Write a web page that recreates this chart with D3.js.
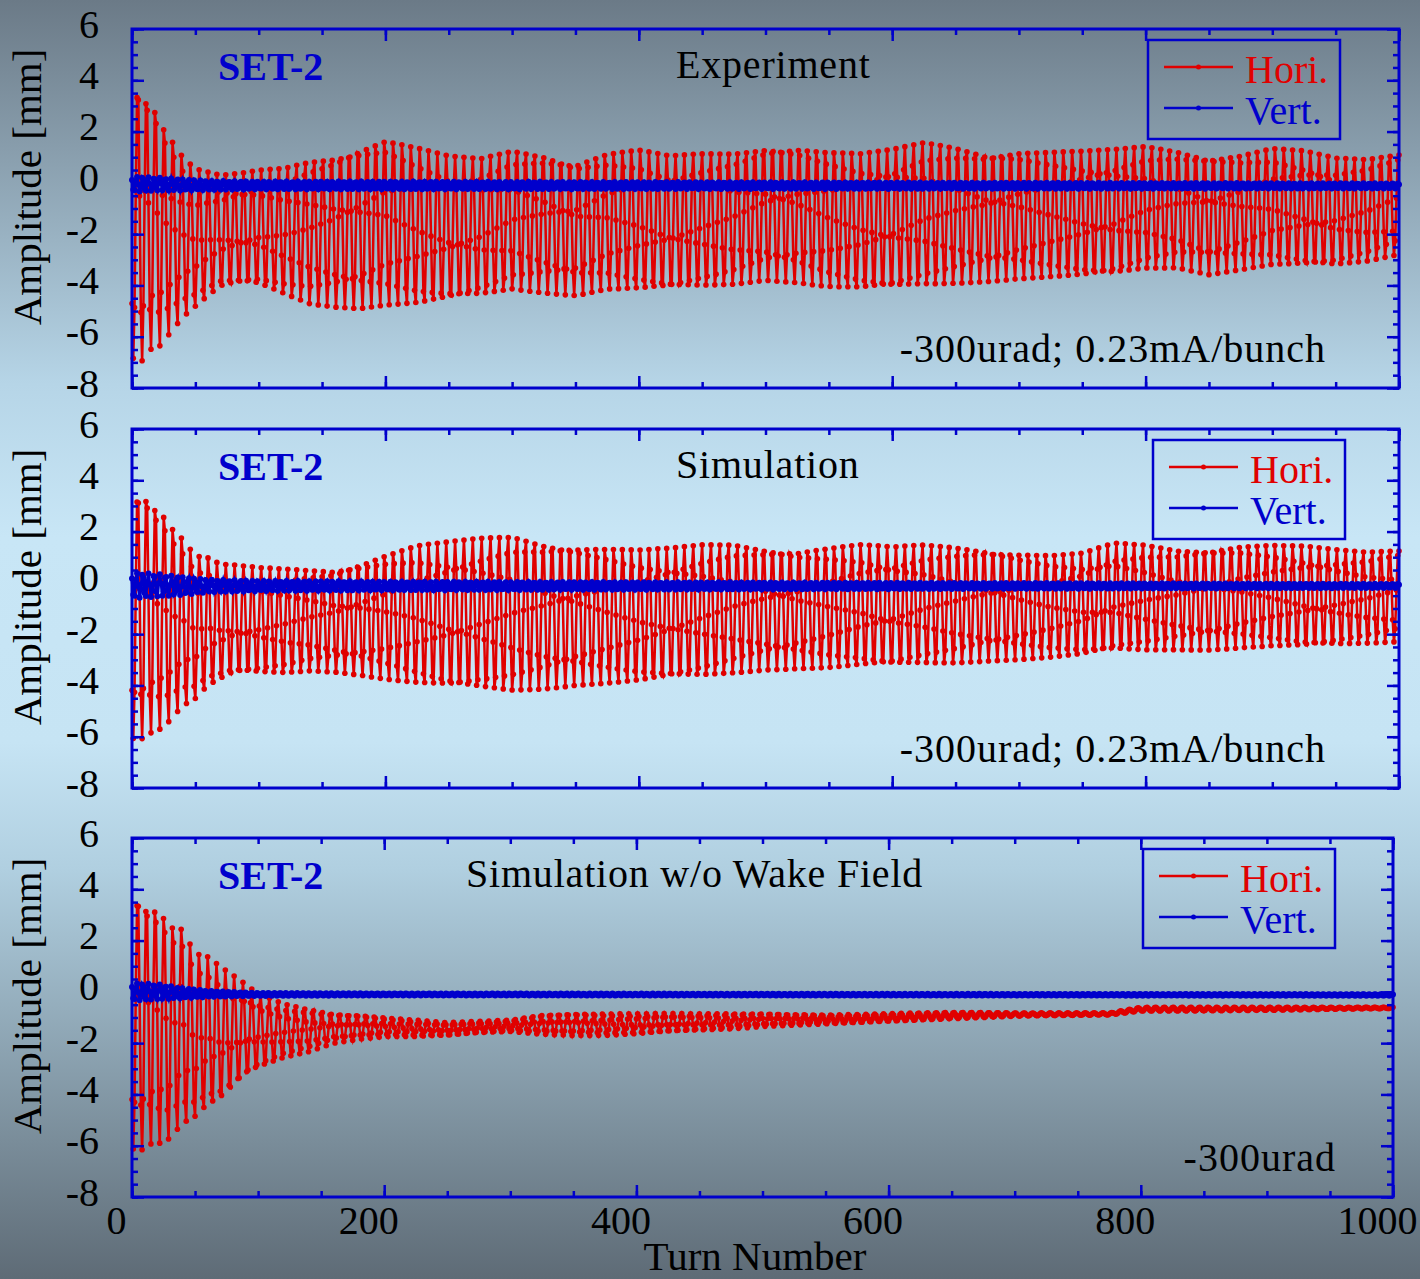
<!DOCTYPE html>
<html>
<head>
<meta charset="utf-8">
<script src="https://cdnjs.cloudflare.com/ajax/libs/d3/7.8.5/d3.min.js"></script>
<style>
    body { margin: 0; }
    svg { display: block; font-family: "Liberation Serif", "Times New Roman", serif; }
</style>
</head>
<body>
<div id="chart"></div>
<script>
var envTurns = [0, 5, 10, 15, 20, 25, 30, 40, 50, 60, 70, 80, 90, 100, 120, 140, 160, 180, 200,
    225, 250, 275, 300, 325, 350, 375, 400, 425, 450, 475, 500, 525, 550, 575, 600, 625, 650, 675,
    700, 725, 750, 775, 800, 825, 850, 875, 900, 925, 950, 975, 1000];

// Experiment, Hori. : upper / lower turning points [mm]
var expHoriTop = [4.0, 3.8, 3.55, 3.3, 2.9, 2.3, 1.9, 1.1, 0.6, 0.45, 0.3, 0.35, 0.4, 0.5, 0.6, 0.9, 1.1, 1.45, 1.75,
    1.4, 1.05, 0.95, 1.3, 1.15, 0.85, 1.2, 1.3, 1.05, 1.15, 1.2, 1.45, 1.45, 1.25, 1.15, 1.3, 1.6, 1.45, 1.2,
    1.28, 1.24, 1.24, 1.3, 1.45, 1.3, 1.07, 1.15, 1.37, 1.25, 0.97, 0.95, 1.2];
var expHoriBot = [-6.8, -7.0, -6.9, -6.5, -6.5, -6.2, -5.9, -5.3, -4.9, -4.5, -4.15, -4.05, -4.02, -4.05, -4.4, -4.75, -4.85, -4.9, -4.8,
    -4.78, -4.65, -4.47, -4.2, -4.3, -4.4, -4.18, -4.22, -4.22, -4.12, -4.0, -3.8, -3.9, -4.1, -4.2, -4.2, -4.05, -3.95, -3.85,
    -3.75, -3.72, -3.72, -3.65, -3.4, -3.33, -3.58, -3.4, -3.25, -3.3, -3.3, -3.1, -2.8];

// Simulation, Hori.
var simHoriTop = [3.6, 3.62, 3.62, 3.3, 3.0, 2.78, 2.35, 1.8, 1.1, 1.0, 0.73, 0.7, 0.65, 0.6, 0.57, 0.55, 0.55, 0.83, 1.15,
    1.48, 1.6, 1.75, 1.85, 1.6, 1.5, 1.4, 1.3, 1.35, 1.5, 1.55, 1.4, 1.3, 1.4, 1.5, 1.4, 1.5, 1.45, 1.35,
    1.2, 1.1, 1.16, 1.55, 1.5, 1.33, 1.36, 1.49, 1.49, 1.43, 1.3, 1.23, 1.35];
var simHoriBot = [-6.06, -6.1, -6.06, -5.86, -5.78, -5.65, -5.4, -4.85, -4.6, -4.1, -3.85, -3.63, -3.6, -3.6, -3.57, -3.46, -3.48, -3.6, -3.78,
    -3.98, -4.15, -4.2, -4.25, -4.15, -4.0, -3.95, -3.9, -3.8, -3.7, -3.55, -3.4, -3.35, -3.35, -3.3, -3.3, -3.2, -3.15, -3.05,
    -3.0, -2.95, -2.88, -2.7, -2.68, -2.62, -2.62, -2.55, -2.52, -2.55, -2.49, -2.4, -2.3];

// Simulation w/o wake field, Hori.
var nowakeHoriTop = [3.7, 3.87, 3.5, 3.6, 3.3, 3.1, 2.7, 2.55, 1.55, 1.4, 1.0, 0.65, 0.3, -0.07, -0.45, -0.67, -0.85, -0.9, -1.0,
    -1.1, -1.2, -1.15, -1.1, -0.9, -0.85, -0.85, -0.85, -0.85, -0.85, -0.85, -0.85, -0.88, -0.9, -0.88, -0.85, -0.82, -0.8, -0.8,
    -0.82, -0.82, -0.82, -0.82, -0.6, -0.6, -0.6, -0.6, -0.6, -0.6, -0.6, -0.6, -0.6];
var nowakeHoriBot = [-6.1, -6.25, -6.1, -5.94, -5.94, -5.9, -5.75, -5.2, -4.95, -4.5, -4.25, -3.8, -3.3, -3.0, -2.6, -2.35, -2.0, -1.85, -1.75,
    -1.75, -1.7, -1.6, -1.55, -1.65, -1.7, -1.7, -1.65, -1.55, -1.5, -1.45, -1.35, -1.3, -1.25, -1.2, -1.15, -1.1, -1.05, -1.0,
    -0.95, -0.93, -0.92, -0.9, -0.75, -0.75, -0.74, -0.73, -0.72, -0.7, -0.68, -0.66, -0.65];

// Vert. : centre and half-spread of the blue band
var vertTurns = [0, 20, 40, 60, 100, 200, 1000];
var expVertMid = [-0.05, -0.05, -0.08, -0.1, -0.1, -0.1, -0.12];
var expVertAmp = [0.3, 0.26, 0.22, 0.18, 0.15, 0.15, 0.1];
var simVertMid = [-0.1, -0.1, -0.12, -0.12, -0.12, -0.12, -0.12];
var simVertAmp = [0.5, 0.45, 0.35, 0.25, 0.2, 0.17, 0.08];
var nowakeVertMid = [0.0, 0.0, -0.05, -0.08, -0.1, -0.1, -0.12];
var nowakeVertAmp = [0.35, 0.3, 0.2, 0.12, 0.06, 0.04, 0.03];

// fractional tunes, counted from the spikes (just under 7 turns per period)
var tuneH = 0.1437,
    tuneV = 0.22;

var panelTitles = ["Experiment", "Simulation", "Simulation w/o Wake Field"];
var panelNotes = ["-300urad; 0.23mA/bunch", "-300urad; 0.23mA/bunch", "-300urad"];
var legendNames = ["Hori.", "Vert."];
var xTicks = [0, 200, 400, 600, 800, 1000];
var yTicks = [-8, -6, -4, -2, 0, 2, 4, 6];

var red = "#e00000",
    blue = "#0000cc";

var width = 1420,
    height = 1279,
    plotH = 359;

var svg = d3.select("#chart")
    .append("svg")
    .attr("width", width)
    .attr("height", height);

// background gradient
var grad = svg.append("defs")
    .append("linearGradient")
    .attr("id", "bg")
    .attr("x1", 0).attr("y1", 0)
    .attr("x2", 0).attr("y2", 1);
[[0, "#6b7a87"], [0.3, "#b6d5e7"], [0.42, "#c8e6f6"], [0.58, "#c6e4f4"], [0.68, "#b0cfe0"], [1, "#5e6b76"]]
    .forEach(function (s) {
        grad.append("stop").attr("offset", s[0]).attr("stop-color", s[1]);
    });
svg.append("rect")
    .attr("width", width)
    .attr("height", height)
    .attr("fill", "url(#bg)");

var turns = d3.range(0, 1001);

function buildHori(top, bot) {
    var topS = d3.scaleLinear().domain(envTurns).range(top);
    var botS = d3.scaleLinear().domain(envTurns).range(bot);
    return turns.map(function (n) {
        var mid = (topS(n) + botS(n)) / 2,
            half = (topS(n) - botS(n)) / 2;
        return { turn: n, value: mid + half * Math.cos(2 * Math.PI * tuneH * n + 2.23) };
    });
}

function buildVert(mid, amp) {
    var midS = d3.scaleLinear().domain(vertTurns).range(mid);
    var ampS = d3.scaleLinear().domain(vertTurns).range(amp);
    return turns.map(function (n) {
        return { turn: n, value: midS(n) + ampS(n) * Math.cos(2 * Math.PI * tuneV * n + 1) };
    });
}

var panels = [
    { top: 29, right: 1399, legendX: 1148, titleX: 676, noteX: 1326,
      hori: buildHori(expHoriTop, expHoriBot), vert: buildVert(expVertMid, expVertAmp) },
    { top: 429, right: 1399, legendX: 1153, titleX: 676, noteX: 1326,
      hori: buildHori(simHoriTop, simHoriBot), vert: buildVert(simVertMid, simVertAmp) },
    { top: 838, right: 1393, legendX: 1143, titleX: 466, noteX: 1336,
      hori: buildHori(nowakeHoriTop, nowakeHoriBot), vert: buildVert(nowakeVertMid, nowakeVertAmp) }
];

function styleAxis(sel) {
    sel.attr("font-size", null).attr("font-family", null).attr("color", blue);
    sel.select(".domain").remove();
    sel.selectAll(".tick line").attr("stroke-width", 2.5);
}

panels.forEach(function (p, i) {
    var g = svg.append("g").attr("transform", "translate(0," + p.top + ")");

    var x = d3.scaleLinear().domain([0, 1000]).range([132, p.right]);
    var y = d3.scaleLinear().domain([-8, 6]).range([plotH, 0]);

    var line = d3.line()
        .x(function (d) { return x(d.turn); })
        .y(function (d) { return y(d.value); });

    // Hori. trace
    g.append("path")
        .datum(p.hori)
        .attr("fill", "none")
        .attr("stroke", red)
        .attr("stroke-width", 2.5)
        .attr("d", line);
    g.append("g")
        .selectAll("circle")
        .data(p.hori)
        .enter()
        .append("circle")
        .attr("cx", function (d) { return x(d.turn); })
        .attr("cy", function (d) { return y(d.value); })
        .attr("r", 2.8)
        .attr("fill", red);

    // Vert. trace on top
    g.append("path")
        .datum(p.vert)
        .attr("fill", "none")
        .attr("stroke", blue)
        .attr("stroke-width", 3)
        .attr("d", line);
    g.append("g")
        .selectAll("circle")
        .data(p.vert)
        .enter()
        .append("circle")
        .attr("cx", function (d) { return x(d.turn); })
        .attr("cy", function (d) { return y(d.value); })
        .attr("r", 3)
        .attr("fill", blue);

    // inward ticks on all four sides
    var minorX = d3.range(0, 1001, 50),
        minorY = d3.range(-8, 6.01, 0.5);

    g.append("g").attr("transform", "translate(0," + plotH + ")")
        .call(d3.axisBottom(x).tickValues(minorX).tickSize(-6).tickFormat(""))
        .call(styleAxis);
    var xb = g.append("g").attr("transform", "translate(0," + plotH + ")")
        .call(d3.axisBottom(x).tickValues(xTicks).tickSize(-12)
            .tickFormat(function (d) { return i == 2 ? String(d) : ""; }))
        .call(styleAxis);
    xb.selectAll("text")
        .attr("y", 37)
        .attr("dy", null)
        .attr("dx", -16)
        .attr("fill", "#000")
        .style("font-size", "40px");

    g.append("g")
        .call(d3.axisTop(x).tickValues(minorX).tickSize(-6).tickFormat(""))
        .call(styleAxis);
    g.append("g")
        .call(d3.axisTop(x).tickValues(xTicks).tickSize(-12).tickFormat(""))
        .call(styleAxis);

    g.append("g").attr("transform", "translate(132,0)")
        .call(d3.axisLeft(y).tickValues(minorY).tickSize(-6).tickFormat(""))
        .call(styleAxis);
    var yl = g.append("g").attr("transform", "translate(132,0)")
        .call(d3.axisLeft(y).tickValues(yTicks).tickSize(-12)
            .tickFormat(function (d) { return String(d); }))
        .call(styleAxis);
    yl.selectAll("text")
        .attr("x", -33)
        .attr("dy", "0.2em")
        .attr("fill", "#000")
        .style("font-size", "40px");

    g.append("g").attr("transform", "translate(" + p.right + ",0)")
        .call(d3.axisRight(y).tickValues(minorY).tickSize(-6).tickFormat(""))
        .call(styleAxis);
    g.append("g").attr("transform", "translate(" + p.right + ",0)")
        .call(d3.axisRight(y).tickValues(yTicks).tickSize(-12).tickFormat(""))
        .call(styleAxis);

    // frame
    g.append("rect")
        .attr("x", 132)
        .attr("y", 0)
        .attr("width", p.right - 132)
        .attr("height", plotH)
        .attr("fill", "none")
        .attr("stroke", blue)
        .attr("stroke-width", 3);

    // texts inside the panel
    g.append("text")
        .attr("x", 218)
        .attr("y", 51)
        .attr("fill", blue)
        .style("font-weight", "bold")
        .style("font-size", "40px")
        .text("SET-2");
    g.append("text")
        .attr("x", p.titleX)
        .attr("y", 49)
        .attr("fill", "#000")
        .style("font-size", "40px")
        .style("letter-spacing", "0.8px")
        .text(panelTitles[i]);
    g.append("text")
        .attr("x", p.noteX)
        .attr("y", 333)
        .attr("text-anchor", "end")
        .attr("fill", "#000")
        .style("font-size", "40px")
        .style("letter-spacing", "1px")
        .text(panelNotes[i]);

    // y axis title
    g.append("text")
        .attr("transform", "translate(41,158) rotate(-90)")
        .attr("text-anchor", "middle")
        .attr("fill", "#000")
        .style("font-size", "41px")
        .text("Amplitude [mm]");

    // legend
    var lg = g.append("g").attr("transform", "translate(" + p.legendX + ",0)");
    lg.append("rect")
        .attr("x", 0)
        .attr("y", 11)
        .attr("width", 192)
        .attr("height", 99)
        .attr("fill", "none")
        .attr("stroke", blue)
        .attr("stroke-width", 2.5);
    [red, blue].forEach(function (c, k) {
        var ly = 38 + k * 41;
        lg.append("line")
            .attr("x1", 16).attr("x2", 85)
            .attr("y1", ly).attr("y2", ly)
            .attr("stroke", c)
            .attr("stroke-width", 2.5);
        lg.append("circle")
            .attr("cx", 50.5).attr("cy", ly)
            .attr("r", 2.5)
            .attr("fill", c);
        lg.append("text")
            .attr("x", 97)
            .attr("y", ly + 16)
            .attr("fill", c)
            .style("font-size", "40px")
            .text(legendNames[k]);
    });
});

// x axis title
svg.append("text")
    .attr("x", 755)
    .attr("y", 1270)
    .attr("text-anchor", "middle")
    .attr("fill", "#000")
    .style("font-size", "41px")
    .text("Turn Number");
</script>
</body>
</html>
